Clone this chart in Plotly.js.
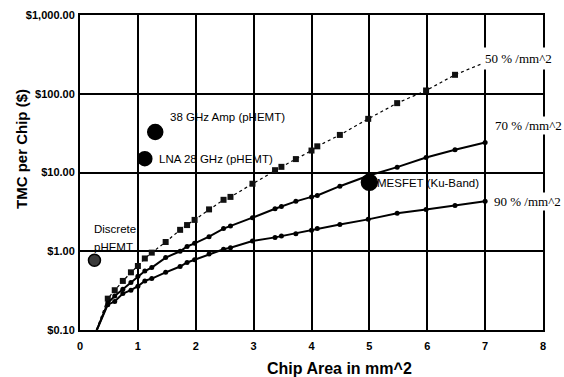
<!DOCTYPE html>
<html>
<head>
<meta charset="utf-8">
<script src="https://cdn.plot.ly/plotly-3.0.1.min.js"></script>
<style>html,body{margin:0;padding:0;background:#fff;}#chart{width:564px;height:377px;}</style>
</head>
<body>
<div id="chart"></div>
<script>
// Chip area (mm^2), shared by the three yield curves
const chipArea = [0.25, 0.48, 0.6, 0.74, 0.88, 1.0, 1.12, 1.24, 1.48, 1.73, 1.85, 1.98, 2.23, 2.48, 2.6, 2.98, 3.37, 3.48, 3.73, 4.0, 4.1, 4.49, 4.98, 5.48, 5.98, 6.48, 7.0];
// TMC per chip ($)
const yield50 = [0.085, 0.25, 0.32, 0.42, 0.54, 0.65, 0.81, 0.96, 1.31, 1.87, 2.15, 2.5, 3.4, 4.5, 4.9, 7.2, 10.7, 11.8, 14.8, 19, 21.5, 30, 48, 76, 110, 174, 250];
const yield70 = [0.085, 0.22, 0.27, 0.33, 0.40, 0.48, 0.56, 0.62, 0.83, 1.0, 1.15, 1.26, 1.53, 1.94, 2.09, 2.67, 3.47, 3.7, 4.3, 4.9, 5.1, 6.7, 9.1, 11.7, 15.5, 19.5, 24];
const yield90 = [0.085, 0.21, 0.23, 0.29, 0.32, 0.36, 0.42, 0.45, 0.54, 0.64, 0.72, 0.78, 0.92, 1.06, 1.11, 1.35, 1.50, 1.56, 1.67, 1.85, 1.94, 2.19, 2.54, 3.03, 3.4, 3.8, 4.3];
const seriesNames = ["50 % /mm^2", "70 % /mm^2", "90 % /mm^2"];
// Individual chips
const chipNames = ["38 GHz Amp (pHEMT)", "LNA 28 GHz (pHEMT)", "MESFET (Ku-Band)", "Discrete pHEMT"];
const chipX = [1.30, 1.12, 5.0, 0.25];
const chipY = [32.7, 15, 7.5, 0.77];
// Axis ticks and titles
const yTickVals = [0.1, 1, 10, 100, 1000];
const yTickText = ["$0.10", "$1.00", "$10.00", "$100.00", "$1,000.00"];
const xTickVals = [0, 1, 2, 3, 4, 5, 6, 7, 8];
const xTitle = "Chip Area in mm^2";
const yTitle = "TMC per Chip ($)";

const SANS = "Liberation Sans, Arial, sans-serif";
const SERIF = "Liberation Serif, Times New Roman, serif";

const traces = [
  {x: chipArea, y: yield50, name: seriesNames[0], mode: "lines+markers", type: "scatter",
   line: {color: "#000", width: 1.2, dash: "dot"}, marker: {symbol: "square", size: 6, color: "#111"}},
  {x: chipArea, y: yield70, name: seriesNames[1], mode: "lines+markers", type: "scatter",
   line: {color: "#000", width: 2}, marker: {symbol: "circle", size: 5, color: "#000"}},
  {x: chipArea, y: yield90, name: seriesNames[2], mode: "lines+markers", type: "scatter",
   line: {color: "#000", width: 2}, marker: {symbol: "circle", size: 5, color: "#000"}},
  {x: chipX, y: chipY, text: chipNames, mode: "markers", type: "scatter",
   marker: {symbol: "circle", size: [15, 14, 16, 12], opacity: 1, color: ["#000", "#000", "#000", "#3a3a3a"],
            line: {color: "#000", width: 1.5}}}
];

const annotations = [
  {x: 6.92, y: 2.45, text: seriesNames[0], xanchor: "left", bgcolor: "#fff", borderpad: 3, font: {family: SERIF, size: 13, color: "#000"}},
  {x: 7.13, y: 1.595, text: seriesNames[1], xanchor: "left", bgcolor: "#fff", font: {family: SERIF, size: 13, color: "#000"}},
  {x: 7.12, y: 0.633, text: seriesNames[2], xanchor: "left", bgcolor: "#fff", font: {family: SERIF, size: 13, color: "#000"}},
  {x: 1.52, y: 1.70, text: chipNames[0], xanchor: "left"},
  {x: 1.33, y: 1.177, text: chipNames[1], xanchor: "left"},
  {x: 5.09, y: 0.873, text: chipNames[2], xanchor: "left"},
  {x: 0.2, y: 0.285, text: "Discrete", xanchor: "left"},
  {x: 0.2, y: 0.055, text: "pHEMT", xanchor: "left"}
].map(a => Object.assign({xref: "x", yref: "y", showarrow: false, borderpad: 1,
  font: {family: SANS, size: 11.5, color: "#000"}}, a));

annotations.push(
  {xref: "paper", yref: "paper", x: (339 - 80) / 463, y: -(368 - 330) / 315, text: xTitle, showarrow: false,
   xanchor: "center", yanchor: "middle", font: {family: SANS, size: 16, color: "#000", weight: "bold"}},
  {xref: "paper", yref: "paper", x: -(80 - 21) / 463, y: (330 - 149) / 315, text: yTitle, showarrow: false,
   textangle: -90, xanchor: "center", yanchor: "middle", font: {family: SANS, size: 15, color: "#000", weight: "bold"}}
);

const layout = {
  width: 564, height: 377,
  margin: {l: 80, r: 21, t: 15, b: 47, pad: 0},
  paper_bgcolor: "#fff", plot_bgcolor: "#fff",
  showlegend: false,
  font: {family: SANS, color: "#000"},
  xaxis: {
    range: [0, 8], tickvals: xTickVals, ticks: "", showgrid: true, gridcolor: "#000", gridwidth: 2,
    showline: true, linecolor: "#000", linewidth: 2, mirror: true, zeroline: false,
    ticklabelstandoff: 5,
    tickfont: {family: SANS, size: 11, color: "#000", weight: "bold"}
  },
  yaxis: {
    type: "log", range: [-1, 3], tickvals: yTickVals, ticktext: yTickText, ticks: "",
    showgrid: true, gridcolor: "#000", gridwidth: 2,
    showline: true, linecolor: "#000", linewidth: 2, mirror: true, zeroline: false,
    ticklabelstandoff: 1,
    tickfont: {family: SANS, size: 11, color: "#000", weight: "bold"}
  },
  annotations: annotations
};

Plotly.newPlot("chart", traces, layout, {staticPlot: true, displayModeBar: false});
</script>
</body>
</html>
